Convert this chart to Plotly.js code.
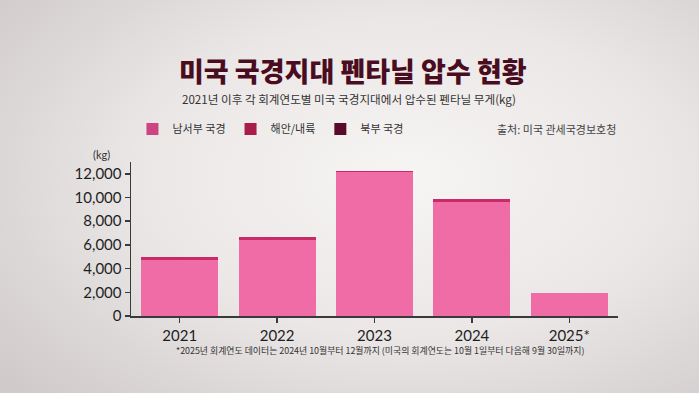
<!DOCTYPE html>
<html>
<head>
<meta charset="utf-8">
<script src="https://cdn.plot.ly/plotly-3.0.1.min.js"></script>
<style>
html,body{margin:0;padding:0;}
body{width:699px;height:393px;overflow:hidden;
background: radial-gradient(ellipse 75% 80% at 58% 45%, #f7f4f4 0%, #ebe7e7 50%, #d0caca 100%);}
#chart{width:699px;height:393px;}
</style>
</head>
<body>
<div id="chart"></div>
<script>
// Data (kg), fiscal years
const years = ['2021', '2022', '2023', '2024', '2025*'];
const southwest = [4750, 6420, 12120, 9630, 1960];
const coastal = [250, 230, 140, 260, 15];
const northern = [5, 10, 5, 20, 2];
const yTicks = [0, 2000, 4000, 6000, 8000, 10000, 12000];
const seriesNames = ['남서부 국경', '해안/내륙', '북부 국경'];

const KR = '"Noto Sans CJK KR", "Noto Sans", sans-serif';
const NUM = 'Lato, "Noto Sans", sans-serif';

const barColors = ['#ef6ca7', '#c92b67', '#5c0b2e'];
const legendColors = ['#cc4580', '#a81d4c', '#5a0b2c'];
const values = [southwest, coastal, northern];

const traces = [];
values.forEach((v, i) => {
  traces.push({type: 'bar', name: seriesNames[i], x: years, y: v,
    marker: {color: barColors[i], line: {width: 0}}, showlegend: false});
});
// legend-only entries (zero-height) with the legend swatch colours
seriesNames.forEach((n, i) => {
  traces.push({type: 'bar', name: n, x: [years[0]], y: [0],
    marker: {color: legendColors[i], line: {width: 0}}, showlegend: true});
});

const layout = {
  width: 699, height: 393,
  margin: {l: 131, r: 81, t: 162, b: 77},
  paper_bgcolor: 'rgba(0,0,0,0)',
  plot_bgcolor: 'rgba(0,0,0,0)',
  barmode: 'stack',
  bargap: 0.21,
  showlegend: true,
  hovermode: false,
  legend: {
    orientation: 'h', x: 0.003, xanchor: 'left', y: 1.214, yanchor: 'middle',
    font: {family: KR, size: 11, color: '#333'},
    bgcolor: 'rgba(0,0,0,0)', traceorder: 'normal', itemclick: false
  },
  xaxis: {
    type: 'category', showline: true, linecolor: '#3a3a3a', linewidth: 1.5,
    ticks: 'outside', ticklen: 5, tickcolor: '#3a3a3a', tickwidth: 1.5,
    showgrid: false, zeroline: false,
    tickfont: {family: NUM, size: 15, color: '#1e1e1e'}, fixedrange: true
  },
  yaxis: {
    range: [0, 13000], tickvals: yTicks, tickformat: ',',
    showline: true, linecolor: '#3a3a3a', linewidth: 1.5,
    ticks: 'outside', ticklen: 5, tickcolor: '#3a3a3a', tickwidth: 1.5,
    showgrid: false, zeroline: false,
    tickfont: {family: NUM, size: 15, color: '#1e1e1e'}, fixedrange: true
  },
  annotations: [
    {text: '미국 국경지대 펜타닐 압수 현황', xref: 'paper', yref: 'paper',
     x: (353 - 131) / 487, y: (316 - 70) / 154, xanchor: 'center', yanchor: 'middle', showarrow: false,
     font: {family: KR, size: 27, color: '#4a0d1f', weight: 900}},
    {text: '2021년 이후 각 회계연도별 미국 국경지대에서 압수된 펜타닐 무게(kg)', xref: 'paper', yref: 'paper',
     x: (349 - 131) / 487, y: (316 - 99) / 154, xanchor: 'center', yanchor: 'middle', showarrow: false,
     font: {family: KR, size: 11.6, color: '#333'}},
    {text: '출처: 미국 관세국경보호청', xref: 'paper', yref: 'paper',
     x: 1.0, y: (316 - 129) / 154, xanchor: 'right', yanchor: 'middle', showarrow: false,
     font: {family: KR, size: 11, color: '#444'}},
    {text: '(kg)', xref: 'paper', yref: 'paper',
     x: -0.04, y: (316 - 154) / 154, xanchor: 'right', yanchor: 'middle', showarrow: false,
     font: {family: NUM, size: 11, color: '#333'}},
    {text: '*2025년 회계연도 데이터는 2024년 10월부터 12월까지 (미국의 회계연도는 10월 1일부터 다음해 9월 30일까지)',
     xref: 'paper', yref: 'paper',
     x: (380 - 131) / 487, y: (316 - 350) / 154, xanchor: 'center', yanchor: 'middle', showarrow: false,
     font: {family: KR, size: 8.9, color: '#333'}}
  ]
};

Plotly.newPlot('chart', traces, layout, {displayModeBar: false, staticPlot: true});
</script>
</body>
</html>
